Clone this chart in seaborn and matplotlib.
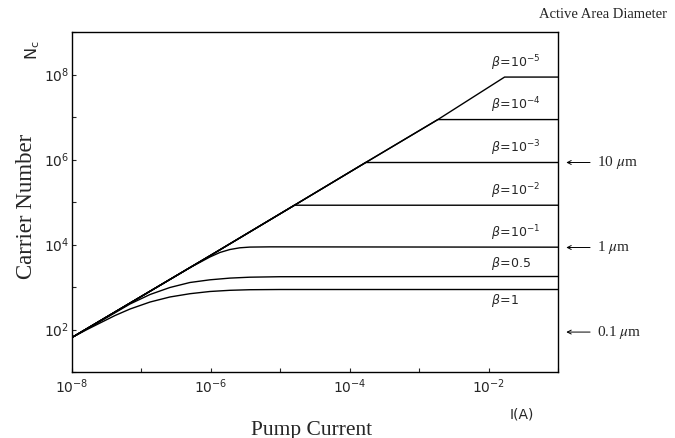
import matplotlib
matplotlib.use("Agg")
import matplotlib.pyplot as plt
import numpy as np
import pandas as pd
import seaborn as sns

# ---- data (I in A, N = carrier number) ----
betas = ["1e-5", "1e-4", "1e-3", "1e-2", "1e-1", "0.5", "1"]
beta_labels = [r"$\beta\!=\!10^{-5}$", r"$\beta\!=\!10^{-4}$", r"$\beta\!=\!10^{-3}$",
               r"$\beta\!=\!10^{-2}$", r"$\beta\!=\!10^{-1}$", r"$\beta\!=\!0.5$", r"$\beta\!=\!1$"]

I_b1e5 = [1e-8, 1e-6, 1.6e-5, 1.7e-4, 1.86e-3, 1.7e-2, 1e-1]
N_b1e5 = [65, 5600, 8.4e4, 8.5e5, 8.7e6, 8.7e7, 8.7e7]
I_b1e4 = [1e-8, 1e-6, 1.6e-5, 1.7e-4, 1.86e-3, 1e-1]
N_b1e4 = [65, 5600, 8.4e4, 8.5e5, 8.7e6, 8.7e6]
I_b1e3 = [1e-8, 1e-6, 1.6e-5, 1.7e-4, 1e-1]
N_b1e3 = [65, 5600, 8.4e4, 8.5e5, 8.5e5]
I_b1e2 = [1e-8, 1e-6, 1.6e-5, 1e-1]
N_b1e2 = [65, 5600, 8.4e4, 8.4e4]
I_b1e1 = [1e-8, 4.99e-7, 6.95e-7, 9.68e-7, 1.35e-6, 1.88e-6, 2.61e-6, 3.64e-6, 7.06e-6, 1e-1]
N_b1e1 = [65, 2858, 3800, 5080, 6490, 7620, 8360, 8690, 8800, 8650]
I_b05 = [1e-8, 2.53e-8, 6.84e-8, 1.33e-7, 2.57e-7, 4.99e-7, 9.68e-7, 1.88e-6, 3.64e-6, 9.84e-6, 1e-1]
N_b05 = [65, 154, 398, 666, 973, 1276, 1476, 1619, 1701, 1745, 1766]
I_b1 = [1e-8, 1.59e-8, 2.53e-8, 4.16e-8, 6.84e-8, 1.33e-7, 2.57e-7, 4.99e-7, 9.68e-7,
        1.88e-6, 3.64e-6, 9.84e-6, 1e-1]
N_b1 = [65, 97, 142, 213, 303, 443, 582, 695, 784, 836, 863, 873, 873]

diam_labels = [r"10 $\mu$m", r"1 $\mu$m", r"0.1 $\mu$m"]
diam_N = [8.5e5, 8.5e3, 87]

x_ticks = [1e-8, 1e-7, 1e-6, 1e-5, 1e-4, 1e-3, 1e-2, 1e-1]
x_ticklabels = [r"$10^{-8}$", "", r"$10^{-6}$", "", r"$10^{-4}$", "", r"$10^{-2}$", ""]
y_ticks = [1e1, 1e2, 1e3, 1e4, 1e5, 1e6, 1e7, 1e8, 1e9]
y_ticklabels = ["", r"$10^{2}$", "", r"$10^{4}$", "", r"$10^{6}$", "", r"$10^{8}$", ""]

series_I = [I_b1e5, I_b1e4, I_b1e3, I_b1e2, I_b1e1, I_b05, I_b1]
series_N = [N_b1e5, N_b1e4, N_b1e3, N_b1e2, N_b1e1, N_b05, N_b1]

frames = []
for b, xi, ni in zip(betas, series_I, series_N):
    frames.append(pd.DataFrame({"I": xi, "N": ni, "beta": b}))
df = pd.concat(frames, ignore_index=True)

# ---- style ----
sns.set_style("ticks", {"xtick.direction": "in", "ytick.direction": "in"})
plt.rcParams["font.family"] = ["DejaVu Sans"]
SERIF = "Liberation Serif"

fig = plt.figure(figsize=(6.75, 4.38), dpi=100)
ax = fig.add_axes([72 / 675, 1 - 372 / 438, 486 / 675, 340 / 438])
ax.set_xscale("log")
ax.set_yscale("log")

sns.lineplot(data=df, x="I", y="N", hue="beta", palette=["black"] * len(betas),
             estimator=None, sort=False, legend=False, linewidth=1.0, ax=ax)

ax.set_xlim(1e-8, 1e-1)
ax.set_ylim(1e1, 1e9)
ax.set_xticks(x_ticks)
ax.set_xticklabels(x_ticklabels)
ax.set_yticks(y_ticks)
ax.set_yticklabels(y_ticklabels)
ax.minorticks_off()
ax.tick_params(axis="both", which="major", length=3, width=0.8, labelsize=10,
               top=False, right=False)
ax.tick_params(axis="x", pad=4)
ax.tick_params(axis="y", pad=2)
ax.set_xlabel("")
ax.set_ylabel("")
for s in ax.spines.values():
    s.set_linewidth(1.0)
    s.set_color("black")
    s.set_visible(True)

# beta labels
lab_x = 1.07e-2
plateaus = [N_b1e5[-1], N_b1e4[-1], N_b1e3[-1], N_b1e2[-1], N_b1e1[-1], N_b05[-1], N_b1[-1]]
for b, lab, n in zip(betas, beta_labels, plateaus):
    if b == "1":
        ax.annotate(lab, xy=(lab_x, n), xytext=(0, -1.5), textcoords="offset points",
                    ha="left", va="top", fontsize=9)
    else:
        ax.annotate(lab, xy=(lab_x, n), xytext=(0, 3), textcoords="offset points",
                    ha="left", va="bottom", fontsize=9)

# diameter arrows
for lab, n in zip(diam_labels, diam_N):
    ax.annotate("", xy=(1.017, n), xycoords=("axes fraction", "data"),
                xytext=(1.066, n), textcoords=("axes fraction", "data"),
                arrowprops=dict(arrowstyle="->", lw=0.7, color="black",
                                shrinkA=0, shrinkB=0, mutation_scale=7),
                annotation_clip=False)
    t = ax.text(1.08, n, lab, transform=ax.get_yaxis_transform(), ha="left",
                va="center", fontsize=11, family=SERIF)
    t.set_math_fontfamily("stix")

fig.text(603 / 675, 1 - 14 / 438, "Active Area Diameter", ha="center", va="center",
         fontsize=10.5, family=SERIF)
fig.text(26 / 675, 1 - 206 / 438, "Carrier Number", rotation=90, ha="center",
         va="center", fontsize=16.5, family=SERIF)
fig.text(312 / 675, 1 - 430 / 438, "Pump Current", ha="center", va="center",
         fontsize=15.5, family=SERIF)
fig.text(33 / 675, 1 - 50 / 438, r"$\mathregular{N_c}$", rotation=90, ha="center",
         va="center", fontsize=11.5)
fig.text(522 / 675, 1 - 414 / 438, "I(A)", ha="center", va="center", fontsize=10)

fig.savefig("out.png", dpi=100)
